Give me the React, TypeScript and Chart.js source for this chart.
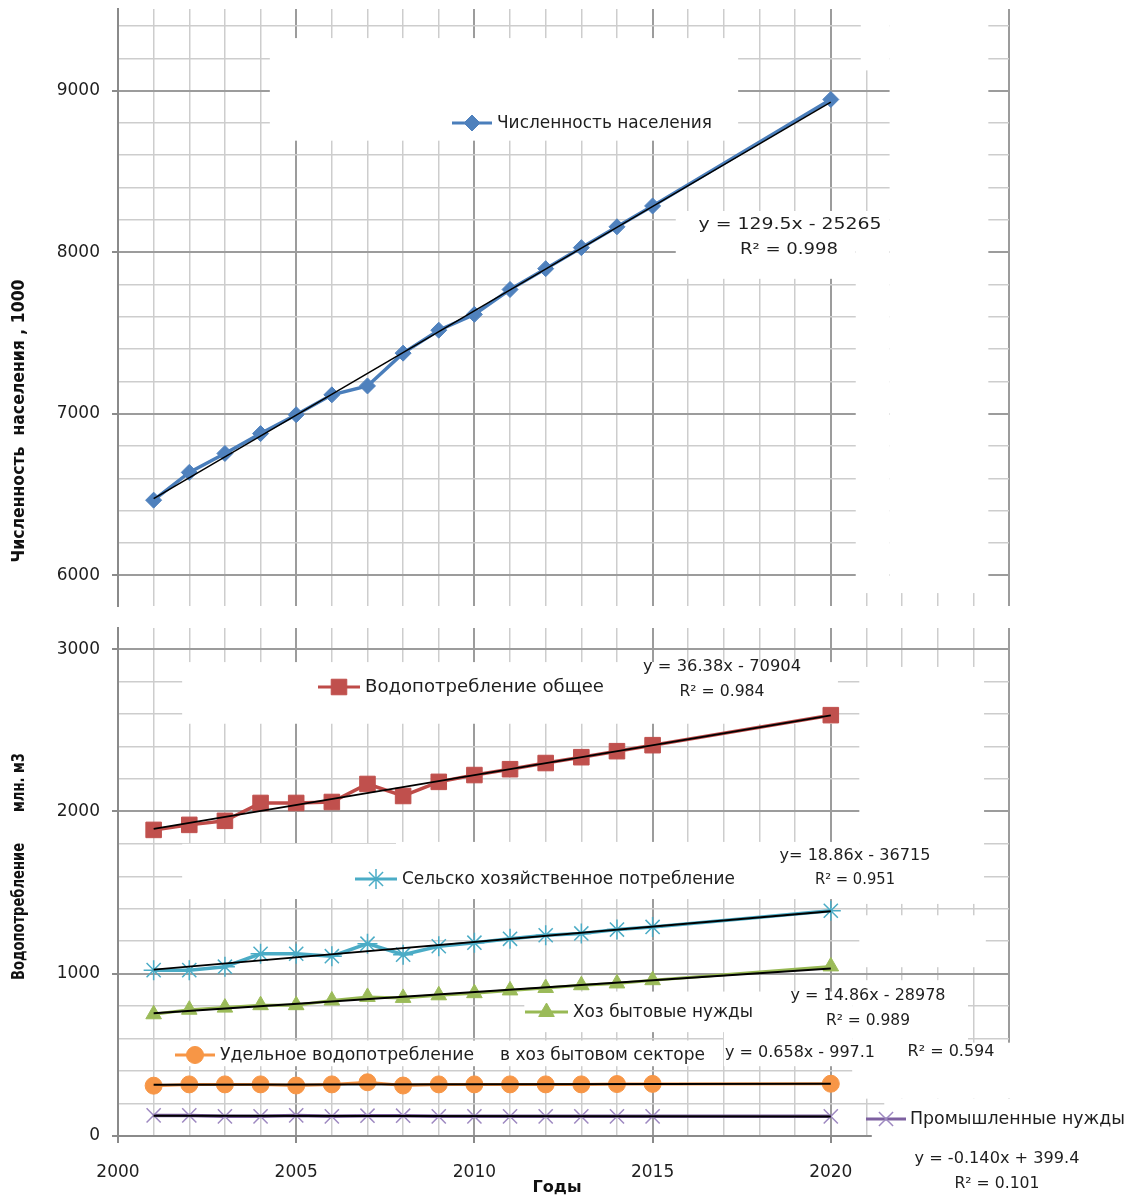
import React, { useEffect, useRef } from "react";
import { Chart, registerables } from "chart.js";
import { drawPoint } from "chart.js/helpers";

Chart.register(...registerables);

// ---------------- data ----------------
const years = [2001, 2002, 2003, 2004, 2005, 2006, 2007, 2008, 2009, 2010, 2011, 2012, 2013, 2014, 2015, 2020];
const population = [6465, 6637, 6754, 6877, 6994, 7117, 7172, 7375, 7517, 7615, 7769, 7898, 8028, 8157, 8286, 8945];
const totalWater = [1886, 1917, 1942, 2052, 2052, 2058, 2169, 2095, 2182, 2224, 2260, 2298, 2334, 2371, 2408, 2593];
const agriWater = [1022, 1022, 1043, 1123, 1123, 1108, 1185, 1117, 1169, 1191, 1215, 1237, 1248, 1272, 1288, 1388];
const householdWater = [750, 778, 791, 806, 806, 835, 857, 851, 867, 880, 897, 912, 929, 940, 960, 1045];
const specificWater = [310, 318, 318, 318, 311, 318, 331, 311, 318, 318, 318, 318, 318, 320, 321, 322];
const industryWater = [127, 127, 121, 121, 127, 121, 125, 125, 121, 121, 121, 121, 121, 121, 121, 121];

const yearGrid = [2000, 2001, 2002, 2003, 2004, 2005, 2006, 2007, 2008, 2009, 2010, 2011, 2012, 2013, 2014, 2015, 2016, 2017, 2018, 2019, 2020, 2021, 2022, 2023, 2024, 2025];
const xLabelYears = [2000, 2005, 2010, 2015, 2020];
const topGrid = [6000, 6200, 6400, 6600, 6800, 7000, 7200, 7400, 7600, 7800, 8000, 8200, 8400, 8600, 8800, 9000, 9200, 9400];
const bottomGrid = [0, 200, 400, 600, 800, 1000, 1200, 1400, 1600, 1800, 2000, 2200, 2400, 2600, 2800, 3000];

// ---------------- styles ----------------
const FONT = '"DejaVu Sans", sans-serif';
const MINOR = "#cdcdcd";
const MAJOR = "#9c9c9c";
const AXIS = "#8a8a8a";
const TICK = "#1e1e1e";
const TEXT = "#1e1e1e";

const C_POP = "#4a7ebb";
const C_TOTAL = "#be4b48";
const C_AGRI = "#4bacc6";
const C_HOUSE = "#98b954";
const C_SPEC = "#f79646";
const C_IND = "#7d60a0";

// white boxes of the original picture, in data units: [x0, x1, y0, y1]
const topMasks = [
  [2004.26, 2017.4, 8690, 9325],
  [2015.65, 2020.7, 7835, 8255],
  [2021.65, 2024.42, 5890, 9505],
  [2020.7, 2021.65, 5890, 8255],
  [2020.84, 2021.65, 9125, 9505],
];
const bottomMasks = [
  [2001.8, 2020.2, 2540, 2920],
  [2020.8, 2024.3, 1430, 2890],
  [2001.8, 2020.8, 1460, 1800],
  [2007.8, 2020.8, 1790, 1812],
  [2020.8, 2024.35, 1040, 1360],
  [2020.6, 2023.85, 560, 960],
  [2020.6, 2025.2, 230, 575],
  [2021.5, 2025.2, 100, 230],
  [2021.15, 2025.2, -50, 100],
  [2001.2, 2016.7, 430, 588],
  [2017.0, 2020.6, 430, 650],
  [2011.4, 2020.6, 640, 890],
];

function trend(xs: number[], ys: number[]) {
  const n = xs.length;
  let sx = 0, sy = 0, sxx = 0, sxy = 0;
  for (let i = 0; i < n; i++) {
    sx += xs[i]; sy += ys[i]; sxx += xs[i] * xs[i]; sxy += xs[i] * ys[i];
  }
  const b = (n * sxy - sx * sy) / (n * sxx - sx * sx);
  const a = (sy - b * sx) / n;
  return [
    { x: xs[0], y: a + b * xs[0] },
    { x: xs[n - 1], y: a + b * xs[n - 1] },
  ];
}

function pts(ys: number[]) {
  return years.map((x, i) => ({ x, y: ys[i] }));
}

function fitText(ctx: CanvasRenderingContext2D, text: string, x: number, y: number, width: number, font: string, color: string, align: "left" | "center" = "left") {
  ctx.save();
  ctx.font = font;
  ctx.fillStyle = color;
  ctx.textBaseline = "middle";
  ctx.textAlign = "left";
  const w = ctx.measureText(text).width;
  const s = width / w;
  const x0 = align === "center" ? x - width / 2 : x;
  ctx.translate(x0, y);
  ctx.scale(s, 1);
  ctx.fillText(text, 0, 0);
  ctx.restore();
}

function rotText(ctx: CanvasRenderingContext2D, text: string, cx: number, cy: number, width: number, font: string) {
  ctx.save();
  ctx.translate(cx, cy);
  ctx.rotate(-Math.PI / 2);
  fitText(ctx, text, 0, 0, width, font, "#111111", "center");
  ctx.restore();
}

type PointSpec = { style: string; radius: number; color: string; fill: string; bw: number };

function legendItem(ctx: CanvasRenderingContext2D, x0: number, x1: number, y: number, color: string, p: PointSpec) {
  ctx.save();
  ctx.strokeStyle = color;
  ctx.lineWidth = 3;
  ctx.beginPath();
  ctx.moveTo(x0, y);
  ctx.lineTo(x1, y);
  ctx.stroke();
  ctx.fillStyle = p.fill;
  ctx.strokeStyle = p.color;
  ctx.lineWidth = p.bw;
  drawPoint(ctx, { pointStyle: p.style as any, radius: p.radius, rotation: 0, borderWidth: p.bw } as any, (x0 + x1) / 2, y);
  ctx.restore();
}

const P_POP: PointSpec = { style: "rectRot", radius: 8, color: "#4f81bd", fill: "#4f81bd", bw: 1 };
const P_TOTAL: PointSpec = { style: "rect", radius: 11, color: "#c0504d", fill: "#c0504d", bw: 1 };
const P_AGRI: PointSpec = { style: "star", radius: 10, color: "#4bacc6", fill: "#4bacc6", bw: 1.5 };
const P_HOUSE: PointSpec = { style: "triangle", radius: 9, color: "#9bbb59", fill: "#9bbb59", bw: 1 };
const P_SPEC: PointSpec = { style: "circle", radius: 8.5, color: "#f79646", fill: "#f79646", bw: 1 };
const P_IND: PointSpec = { style: "crossRot", radius: 10, color: "#9d88c0", fill: "#9d88c0", bw: 1.5 };

function seriesDs(label: string, ys: number[], line: string, p: PointSpec, width: number) {
  return {
    label,
    data: pts(ys),
    borderColor: line,
    borderWidth: width,
    pointStyle: p.style,
    pointRadius: p.radius,
    pointBackgroundColor: p.fill,
    pointBorderColor: p.color,
    pointBorderWidth: p.bw,
    tension: 0,
    order: 2,
  };
}

function trendDs(ys: number[], width: number) {
  return {
    label: "trend",
    data: trend(years, ys),
    borderColor: "#000000",
    borderWidth: width,
    pointRadius: 0,
    order: 1,
  };
}

function isMajorX(c: any) {
  return c.tick && c.tick.value % 5 === 0;
}
function isMajorY(c: any) {
  return c.tick && c.tick.value % 1000 === 0;
}

function xScale(showLabels: boolean, height: number) {
  return {
    type: "linear",
    min: 2000,
    max: 2025,
    afterBuildTicks: (s: any) => {
      s.ticks = yearGrid.map((v) => ({ value: v }));
    },
    afterFit: (s: any) => {
      s.height = height;
      s.paddingLeft = 0;
      s.paddingRight = 0;
    },
    grid: {
      color: (c: any) => (isMajorX(c) ? MAJOR : MINOR),
      lineWidth: (c: any) => (isMajorX(c) ? 2 : 1.5),
      drawTicks: showLabels,
      tickLength: 7,
      tickColor: (c: any) => (isMajorX(c) ? AXIS : "rgba(0,0,0,0)"),
      tickWidth: 2,
    },
    border: { display: showLabels, color: AXIS, width: 2 },
    ticks: {
      display: showLabels,
      autoSkip: false,
      maxRotation: 0,
      minRotation: 0,
      padding: 19,
      color: TICK,
      font: { family: FONT, size: 17 },
      callback: (v: any) => (xLabelYears.includes(Number(v)) ? String(v) : ""),
    },
  };
}

function yScale(min: number, max: number, grid: number[]) {
  return {
    type: "linear",
    min,
    max,
    afterBuildTicks: (s: any) => {
      s.ticks = grid.map((v) => ({ value: v }));
    },
    afterFit: (s: any) => {
      s.width = 118;
      s.paddingTop = 0;
      s.paddingBottom = 0;
    },
    grid: {
      color: (c: any) => (isMajorY(c) ? MAJOR : MINOR),
      lineWidth: (c: any) => (isMajorY(c) ? 2 : 1.5),
      tickLength: 6,
      tickColor: (c: any) => (isMajorY(c) ? AXIS : "rgba(0,0,0,0)"),
      tickWidth: 2,
    },
    border: { color: AXIS, width: 2 },
    ticks: {
      padding: 12,
      color: TICK,
      font: { family: FONT, size: 17 },
      callback: (v: any) => (Number(v) % 1000 === 0 ? String(v) : ""),
    },
  };
}

function maskPlugin(masks: number[][]) {
  return {
    id: "masks",
    beforeDatasetsDraw(chart: any) {
      const { ctx, scales } = chart;
      const x = scales.x;
      const y = scales.y;
      ctx.save();
      ctx.fillStyle = "#ffffff";
      masks.forEach(([x0, x1, y0, y1]) => {
        const px0 = x.getPixelForValue(x0);
        const px1 = x.getPixelForValue(x1);
        const py0 = y.getPixelForValue(y1);
        const py1 = y.getPixelForValue(y0);
        ctx.fillRect(px0, py0, px1 - px0, py1 - py0);
      });
      ctx.restore();
    },
  };
}

const LEG_FONT = `18px ${FONT}`;
const EQ_FONT = `16px ${FONT}`;
const TITLE_FONT = `bold 17px ${FONT}`;

const topTextPlugin = {
  id: "topText",
  afterDraw(chart: any) {
    const ctx = chart.ctx as CanvasRenderingContext2D;
    legendItem(ctx, 452, 492, 123, C_POP, P_POP);
    fitText(ctx, "Численность населения", 497, 123, 215, LEG_FONT, TEXT);
    fitText(ctx, "y = 129.5x - 25265", 790, 225, 183, EQ_FONT, TEXT, "center");
    fitText(ctx, "R² = 0.998", 789, 250, 98, EQ_FONT, TEXT, "center");
    rotText(ctx, "Численность  населения , 1000", 20, 421, 283, TITLE_FONT);
  },
};

const bottomTextPlugin = {
  id: "bottomText",
  afterDraw(chart: any) {
    const ctx = chart.ctx as CanvasRenderingContext2D;
    legendItem(ctx, 318, 360, 72, C_TOTAL, P_TOTAL);
    fitText(ctx, "Водопотребление общее", 365, 72, 239, LEG_FONT, TEXT);
    legendItem(ctx, 355, 397, 264, C_AGRI, P_AGRI);
    fitText(ctx, "Сельско хозяйственное потребление", 402, 264, 333, LEG_FONT, TEXT);
    legendItem(ctx, 525, 568, 397, C_HOUSE, P_HOUSE);
    fitText(ctx, "Хоз бытовые нужды", 573, 397, 180, LEG_FONT, TEXT);
    legendItem(ctx, 175, 215, 440, C_SPEC, P_SPEC);
    fitText(ctx, "Удельное водопотребление", 220, 440, 254, LEG_FONT, TEXT);
    fitText(ctx, "в хоз бытовом секторе", 500, 440, 205, LEG_FONT, TEXT);
    legendItem(ctx, 866, 906, 504, C_IND, P_IND);
    fitText(ctx, "Промышленные нужды", 910, 504, 215, LEG_FONT, TEXT);

    fitText(ctx, "y = 36.38x - 70904", 722, 52, 158, EQ_FONT, TEXT, "center");
    fitText(ctx, "R² = 0.984", 722, 77, 85, EQ_FONT, TEXT, "center");
    fitText(ctx, "y= 18.86x - 36715", 855, 241, 151, `15px ${FONT}`, TEXT, "center");
    fitText(ctx, "R² = 0.951", 855, 265, 80, `15px ${FONT}`, TEXT, "center");
    fitText(ctx, "y = 14.86x - 28978", 868, 381, 155, EQ_FONT, TEXT, "center");
    fitText(ctx, "R² = 0.989", 868, 406, 84, EQ_FONT, TEXT, "center");
    fitText(ctx, "y = 0.658x - 997.1", 800, 438, 150, EQ_FONT, TEXT, "center");
    fitText(ctx, "R² = 0.594", 951, 437, 87, EQ_FONT, TEXT, "center");
    fitText(ctx, "y = -0.140x + 399.4", 997, 544, 165, EQ_FONT, TEXT, "center");
    fitText(ctx, "R² = 0.101", 997, 569, 85, EQ_FONT, TEXT, "center");

    rotText(ctx, "Водопотребление", 20, 296.5, 137, TITLE_FONT);
    rotText(ctx, "млн. м3", 20, 167.5, 59, TITLE_FONT);
    fitText(ctx, "Годы", 557, 573, 49, `bold 16px ${FONT}`, "#111111", "center");
  },
};

export default function App() {
  const topRef = useRef<HTMLCanvasElement>(null);
  const botRef = useRef<HTMLCanvasElement>(null);

  useEffect(() => {
    document.body.style.margin = "0";
    const common = {
      responsive: false,
      animation: false,
      events: [],
      plugins: { legend: { display: false }, tooltip: { enabled: false } },
    };
    const top = new Chart(topRef.current as HTMLCanvasElement, {
      type: "line",
      data: {
        datasets: [seriesDs("Численность населения", population, C_POP, P_POP, 3.5), trendDs(population, 1.5)] as any,
      },
      options: {
        ...common,
        layout: { padding: { left: 0, right: 122, top: 6, bottom: 0 } },
        scales: { x: xScale(false, 9), y: yScale(5810, 9505, topGrid) },
      } as any,
      plugins: [maskPlugin(topMasks), topTextPlugin],
    });
    const bot = new Chart(botRef.current as HTMLCanvasElement, {
      type: "line",
      data: {
        datasets: [
          seriesDs("Водопотребление общее", totalWater, C_TOTAL, P_TOTAL, 3.5),
          seriesDs("Сельско хозяйственное потребление", agriWater, C_AGRI, P_AGRI, 3.5),
          seriesDs("Хоз бытовые нужды", householdWater, C_HOUSE, P_HOUSE, 3),
          seriesDs("Удельное водопотребление в хоз бытовом секторе", specificWater, C_SPEC, P_SPEC, 3),
          seriesDs("Промышленные нужды", industryWater, C_IND, P_IND, 3.5),
          trendDs(totalWater, 2),
          trendDs(agriWater, 2),
          trendDs(householdWater, 2),
          trendDs(specificWater, 2),
          trendDs(industryWater, 2),
        ] as any,
      },
      options: {
        ...common,
        layout: { padding: { left: 0, right: 122, top: 13, bottom: 0 } },
        scales: { x: xScale(true, 62), y: yScale(0, 3130, bottomGrid) },
      } as any,
      plugins: [maskPlugin(bottomMasks), bottomTextPlugin],
    });
    return () => {
      top.destroy();
      bot.destroy();
    };
  }, []);

  return (
    <div style={{ width: 1131, height: 1198, background: "#ffffff" }}>
      <canvas ref={topRef} width={1131} height={615} style={{ display: "block", width: 1131, height: 615 }} />
      <canvas ref={botRef} width={1131} height={583} style={{ display: "block", width: 1131, height: 583 }} />
    </div>
  );
}
